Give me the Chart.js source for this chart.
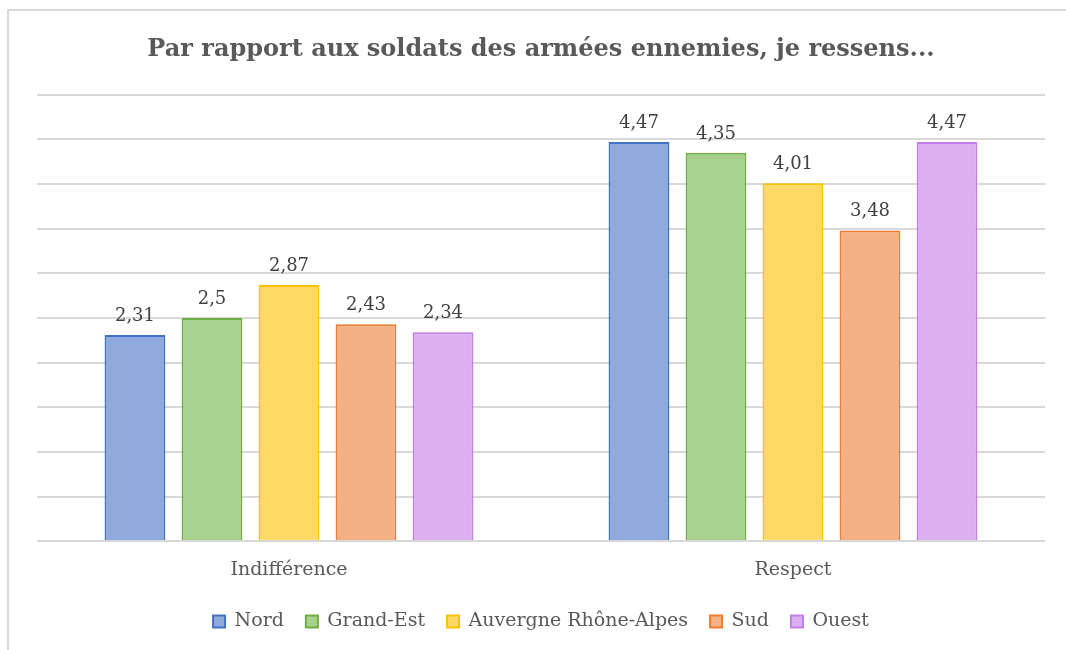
<!DOCTYPE html>
<html>
<head>
<meta charset="utf-8">
<script src="https://cdn.jsdelivr.net/npm/chart.js@4"></script>
<style>
    html, body { margin: 0; padding: 0; background: #fff; overflow: hidden; }
    .frame {
        position: absolute; left: 7px; top: 9px; width: 1100px; height: 700px;
        border-left: 2px solid #d9d9d9; border-top: 2px solid #d9d9d9;
    }
    canvas { position: absolute; left: 0; top: 0; }
</style>
</head>
<body>
<div class="frame"></div>
<canvas id="chart" width="1066" height="642"></canvas>
<script>
// Data
const categories = ['Indifférence', 'Respect'];
const regions = ['Nord', 'Grand-Est', 'Auvergne Rhône-Alpes', 'Sud', 'Ouest'];
const nordValues = [2.31, 4.47];
const grandEstValues = [2.5, 4.35];
const auvergneValues = [2.87, 4.01];
const sudValues = [2.43, 3.48];
const ouestValues = [2.34, 4.47];
const yTicks = [0, 0.5, 1, 1.5, 2, 2.5, 3, 3.5, 4, 4.5, 5];

const fills = ['#8faadc', '#a9d18e', '#ffd966', '#f4b183', '#dcb0f0'];
const borders = ['#4472c4', '#70ad47', '#ffc000', '#ed7d31', '#c47ee8'];
const FONT = "'DejaVu Serif', serif";

const series = [nordValues, grandEstValues, auvergneValues, sudValues, ouestValues];

// draw value labels above each bar
const valueLabels = {
    id: 'valueLabels',
    afterDatasetsDraw(chart) {
        const ctx = chart.ctx;
        ctx.save();
        ctx.font = '18px ' + FONT;
        ctx.fillStyle = '#404040';
        ctx.textAlign = 'center';
        ctx.textBaseline = 'bottom';
        chart.data.datasets.forEach((ds, i) => {
            chart.getDatasetMeta(i).data.forEach((bar, j) => {
                const txt = String(ds.data[j]).replace('.', ',');
                ctx.fillText(txt, bar.x, bar.y - 10);
            });
        });
        ctx.restore();
    }
};

new Chart(document.getElementById('chart'), {
    type: 'bar',
    data: {
        labels: categories,
        datasets: regions.map((name, i) => ({
            label: name,
            data: series[i],
            backgroundColor: fills[i],
            borderColor: borders[i],
            borderWidth: 2,
            categoryPercentage: 0.764,
            barPercentage: 0.79
        }))
    },
    options: {
        responsive: false,
        animation: false,
        layout: { padding: { left: 37, right: 21, top: 35, bottom: 1 } },
        plugins: {
            title: {
                display: true,
                text: 'Par rapport aux soldats des armées ennemies, je ressens...',
                color: '#595959',
                font: { family: FONT, size: 24, weight: 'bold' },
                padding: { top: 0, bottom: 31 }
            },
            legend: {
                position: 'bottom',
                labels: {
                    color: '#595959',
                    font: { family: FONT, size: 19 },
                    boxWidth: 12,
                    boxHeight: 12,
                    padding: 22
                }
            },
            tooltip: { enabled: false }
        },
        scales: {
            x: {
                grid: { display: false },
                border: { display: false },
                ticks: { color: '#595959', font: { family: FONT, size: 19 }, padding: 9 }
            },
            y: {
                min: 0,
                max: 5,
                afterBuildTicks: (axis) => { axis.ticks = yTicks.map(v => ({ value: v })); },
                grid: { color: '#d9d9d9', lineWidth: 2, drawTicks: false },
                border: { display: false },
                ticks: { display: false }
            }
        }
    },
    plugins: [valueLabels]
});
</script>
</body>
</html>
